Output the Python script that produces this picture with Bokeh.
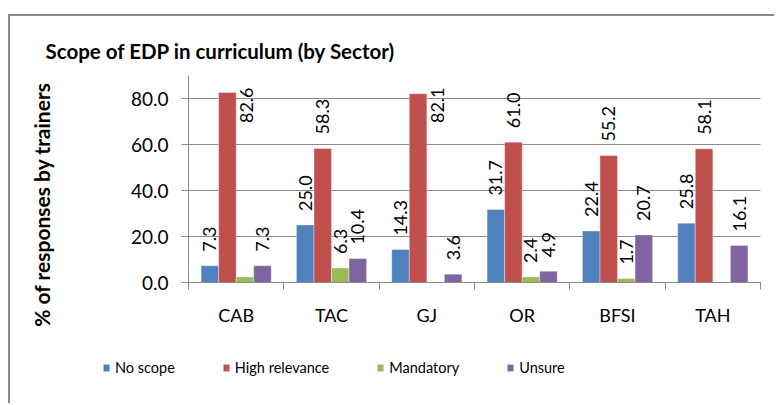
import math
from bokeh.plotting import figure
from bokeh.models import (ColumnDataSource, FixedTicker, Legend, LegendItem, Label,
                          LinearAxis, NumeralTickFormatter, Range1d)
from bokeh.core.properties import value
from bokeh.embed import file_html
from bokeh.resources import INLINE

categories = ["CAB", "TAC", "GJ", "OR", "BFSI", "TAH"]
series = ["No scope", "High relevance", "Mandatory", "Unsure"]
no_scope = [7.3, 25.0, 14.3, 31.7, 22.4, 25.8]
high_relevance = [82.6, 58.3, 82.1, 61.0, 55.2, 58.1]
mandatory = [2.4, 6.3, 0.0, 2.4, 1.7, 0.0]
unsure = [7.3, 10.4, 3.6, 4.9, 20.7, 16.1]
# which data labels are shown in the reference
show_no_scope = [True] * 6
show_high = [True] * 6
show_mandatory = [False, True, False, True, True, False]
show_unsure = [True] * 6
y_ticks = [0, 20, 40, 60, 80]
y_max = 90

values = [no_scope, high_relevance, mandatory, unsure]
shows = [show_no_scope, show_high, show_mandatory, show_unsure]
colors = ["#4F81BD", "#C0504D", "#9BBB59", "#8064A2"]

FONT = "Lato"
GRID = "#8c8c8c"

# canvas layout (pixels): the frame covers the whole canvas, the plot area is inside it
W, H = 766, 389
PL, PR, PT, PB = 178, 750, 59, 266          # plot area edges within the canvas
ncat = len(categories)
px_x = (PR - PL) / ncat
px_y = (PB - PT) / y_max
x_range = Range1d(-PL / px_x, (W - PL) / px_x)
y_range = Range1d(-(H - PB) / px_y, PB / px_y)

p = figure(width=W, height=H, output_backend="svg", toolbar_location=None,
           x_range=x_range, y_range=y_range, x_axis_type=None, y_axis_type=None,
           min_border=0, outline_line_color=None,
           margin=(14, 0, 0, 8),
           styles={"border-left": "2px solid #8a8a8a", "border-top": "2px solid #8a8a8a"})
p.xgrid.grid_line_color = None
p.ygrid.grid_line_color = None

# horizontal gridlines across the plot area
p.segment(x0=[0] * len(y_ticks), x1=[ncat] * len(y_ticks), y0=y_ticks, y1=y_ticks,
          line_color=GRID, line_width=1)

bar_w = 0.184
offsets = [(-1.5 + k) * bar_w for k in range(4)]

items = []
for k, (name, vals, show, col) in enumerate(zip(series, values, shows, colors)):
    xs = [i + 0.5 + offsets[k] for i in range(ncat)]
    src = ColumnDataSource(dict(x=xs, top=vals))
    r = p.vbar(x="x", top="top", width=bar_w, source=src, fill_color=col,
               line_color="#ffffff", line_alpha=0.35, line_width=1)
    items.append(LegendItem(label=name, renderers=[r]))
    lx, ly, lt = [], [], []
    hx, hy, ht = [], [], []
    for i, v in enumerate(vals):
        if not show[i]:
            continue
        if v > 75:
            hx.append(xs[i] + 0.2)
            hy.append(84.8)
            ht.append(f"{v:.1f}")
        else:
            lx.append(xs[i])
            ly.append(v)
            lt.append(f"{v:.1f}")
    p.text(x=lx, y=ly, text=lt, angle=math.pi / 2, y_offset=-14,
           text_align="left", text_baseline="middle", text_font=value(FONT),
           text_font_size="18px", text_color="#000000")
    if hx:
        p.text(x=hx, y=hy, text=ht, angle=math.pi / 2,
               text_align="right", text_baseline="middle", text_font=value(FONT),
               text_font_size="18px", text_color="#000000")

# x axis at y = 0
xaxis = LinearAxis(fixed_location=0, bounds=(0, ncat),
                   ticker=FixedTicker(ticks=[i + 0.5 for i in range(ncat)],
                                      minor_ticks=list(range(ncat + 1))),
                   major_label_overrides={i + 0.5: c for i, c in enumerate(categories)},
                   major_tick_out=0, major_tick_in=0,
                   minor_tick_out=7, minor_tick_in=0, minor_tick_line_color=GRID,
                   axis_line_color=GRID,
                   major_label_text_font=FONT, major_label_text_font_size="18px",
                   major_label_text_color="#000000", major_label_standoff=14)
p.add_layout(xaxis, "below")

# y axis at x = 0
yaxis = LinearAxis(fixed_location=0, bounds=(0, y_max),
                   ticker=FixedTicker(ticks=y_ticks),
                   formatter=NumeralTickFormatter(format="0.0"),
                   major_tick_out=7, major_tick_in=0, minor_tick_line_color=None,
                   major_tick_line_color=GRID, axis_line_color=GRID,
                   major_label_text_font=FONT, major_label_text_font_size="19px",
                   major_label_text_color="#000000", major_label_standoff=13)
p.add_layout(yaxis, "left")

legend = Legend(items=items, orientation="horizontal", location=(92, 29),
                spacing=47, glyph_width=8, glyph_height=9, label_standoff=5,
                padding=0, margin=0, border_line_color=None,
                background_fill_alpha=0,
                label_text_font=FONT, label_text_font_size="14.5px",
                label_text_color="#000000")
p.add_layout(legend, "center")

p.add_layout(Label(x=35, y=H - 34, x_units="screen", y_units="screen",
                   text="Scope of EDP in curriculum (by Sector)",
                   text_font=FONT, text_font_size="20.5px", text_font_style="bold",
                   text_baseline="middle", text_align="left", text_color="#000000"))
p.add_layout(Label(x=31, y=H - 188, x_units="screen", y_units="screen",
                   text="% of responses by trainers", angle=math.pi / 2,
                   text_font=FONT, text_font_size="21px", text_font_style="bold",
                   text_baseline="middle", text_align="center", text_color="#000000"))

open("out.html", "w").write(file_html(p, INLINE))
